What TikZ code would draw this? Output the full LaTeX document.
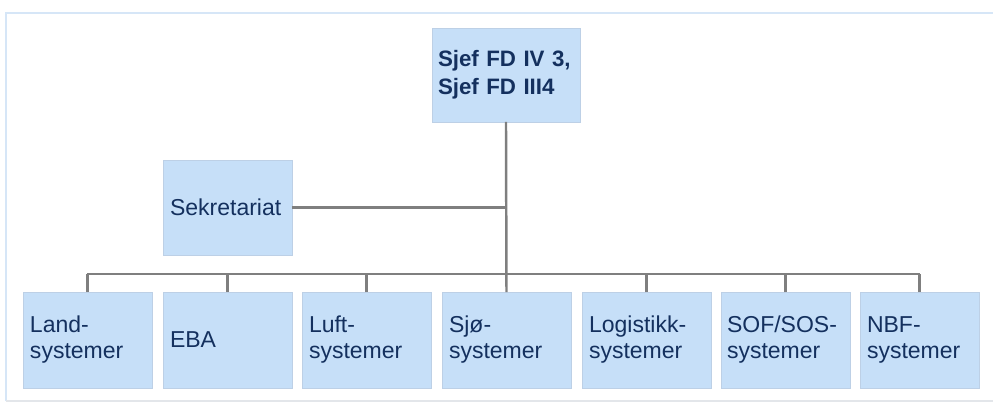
\documentclass[tikz,border=0pt]{standalone}
\usepackage{fontspec}
\setmainfont{Liberation Sans}
\usetikzlibrary{calc}
\definecolor{BoxBlue}{HTML}{C6DFF8}
\definecolor{BoxEdge}{HTML}{BDD0E6}
\definecolor{TextNavy}{HTML}{14305E}
\definecolor{LineGray}{HTML}{7F7F7F}
\definecolor{FrameBlue}{HTML}{D6E6F7}
\definecolor{FrameGray}{HTML}{E3E6EA}

\begin{document}
\begin{tikzpicture}[x=0.02cm, y=-0.02cm,
		unit/.style={fill=BoxBlue, draw=BoxEdge, line width=0.3pt, anchor=north west, outer sep=0pt,
			inner ysep=0pt, inner xsep=0.14cm, text width=2.3cm, minimum height=1.92cm, align=left,
			text=TextNavy, font=\fontsize{13.1}{14.8}\selectfont},
		link/.style={draw=LineGray, line width=1.4pt}]
	\useasboundingbox (0, 0) rectangle (993, 403);
	
	% frame
	\draw[FrameBlue, line width=1.2pt] (6, 401) -- (6, 13) -- (993, 13);
	\draw[FrameGray, line width=1.2pt] (6, 401) -- (993, 401);
	
	% top and staff
	\node[unit, inner xsep=0.12cm, text width=2.72cm, minimum height=1.88cm,
		font=\bfseries\fontsize{12.7}{15.9}\selectfont] (chief) at (432, 28) {Sjef FD IV 3,\\Sjef FD III4};
	\node[unit, text width=2.3cm, minimum height=1.9cm] (sek) at (163, 160) {Sekretariat};
	
	% sections
	\node[unit] (land) at (23, 292) {Land-\\systemer};
	\node[unit] (eba)  at (163, 292) {EBA};
	\node[unit] (luft) at (302, 292) {Luft-\\systemer};
	\node[unit] (sjo)  at (442, 292) {Sjø-\\systemer};
	\node[unit] (log)  at (582, 292) {Logistikk-\\systemer};
	\node[unit, inner xsep=0.12cm, text width=2.34cm] (sof) at (721, 292) {SOF/SOS-\\systemer};
	\node[unit, text width=2.1cm] (nbf) at (860, 292) {NBF-\\systemer};
	
	\coordinate (bus) at (506, 274);
	
	\draw[link] (chief.south) -- (sjo.north);
	\draw[link] (sek.east) -- (sek.east -| chief.south);
	\draw[link] (land.north |- bus) -- (nbf.north |- bus);
	
	\draw[link] (land.north) -- (land.north |- bus);
	\draw[link] (eba.north) -- (eba.north |- bus);
	\draw[link] (luft.north) -- (luft.north |- bus);
	\draw[link] (log.north) -- (log.north |- bus);
	\draw[link] (sof.north) -- (sof.north |- bus);
	\draw[link] (nbf.north) -- (nbf.north |- bus);
\end{tikzpicture}
\end{document}
